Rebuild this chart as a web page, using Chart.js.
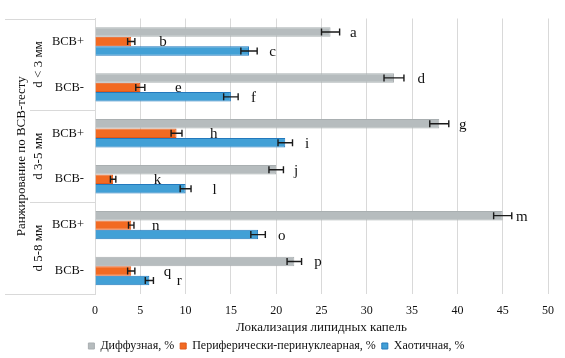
<!DOCTYPE html>
<html>
<head>
<meta charset="utf-8">
<script src="https://cdn.jsdelivr.net/npm/chart.js@4/dist/chart.umd.min.js"></script>
<style>
html,body{margin:0;padding:0;background:#fff;}
#wrap{width:565px;height:358px;position:relative;}
</style>
</head>
<body>
<div id="wrap"><canvas id="c" width="565" height="358"></canvas></div>
<script>
const categories = ['ВСВ+', 'ВСВ-', 'ВСВ+', 'ВСВ-', 'ВСВ+', 'ВСВ-'];
const groups = ['d < 3 мм', 'd 3-5 мм', 'd 5-8 мм'];
const outerTitle = 'Ранжирование по ВСВ-тесту';
const xTitle = 'Локализация липидных капель';
const seriesNames = ['Диффузная, %', 'Периферически-перинуклеарная, %', 'Хаотичная, %'];

const diffuse = [26, 33, 38, 20, 45, 22];
const diffuseErr = [1.0, 1.1, 1.05, 0.8, 1.0, 0.8];
const peripheral = [4, 5, 9, 2, 4, 4];
const peripheralErr = [0.4, 0.5, 0.6, 0.3, 0.3, 0.4];
const chaotic = [17, 15, 21, 10, 18, 6];
const chaoticErr = [0.9, 0.8, 0.8, 0.6, 0.8, 0.45];

const diffuseLetters = ['a', 'd', 'g', 'j', 'm', 'p'];
const diffuseLetterX = [28.5, 36.0, 40.6, 22.2, 47.1, 24.6];
const peripheralLetters = ['b', 'e', 'h', 'k', 'n', 'q'];
const peripheralLetterX = [7.5, 9.2, 13.1, 6.9, 6.7, 8.0];
const chaoticLetters = ['c', 'f', 'i', 'l', 'o', 'r'];
const chaoticLetterX = [19.6, 17.5, 23.4, 13.2, 20.6, 9.3];

const xTicksMax = 50;
const xStep = 5;

const FONT = "Liberation Serif";
const GRID = '#d9d9d9';
Chart.defaults.font.family = FONT;
Chart.defaults.color = '#111';

const errorSets = [diffuseErr, peripheralErr, chaoticErr];
const letterSets = [diffuseLetters, peripheralLetters, chaoticLetters];
const letterXSets = [diffuseLetterX, peripheralLetterX, chaoticLetterX];

const annotPlugin = {
  id: 'annot',
  afterDatasetsDraw(chart) {
    const ctx = chart.ctx;
    const xs = chart.scales.x;
    ctx.save();
    chart.data.datasets.forEach((ds, di) => {
      const meta = chart.getDatasetMeta(di);
      meta.data.forEach((el, i) => {
        const v = ds.data[i];
        const e = errorSets[di][i];
        const x1 = xs.getPixelForValue(v - e);
        const x2 = xs.getPixelForValue(v + e);
        const y = el.y;
        ctx.strokeStyle = '#1a1a1a';
        ctx.lineWidth = 1.4;
        ctx.beginPath();
        ctx.moveTo(x1, y); ctx.lineTo(x2, y);
        ctx.moveTo(x1, y - 3.5); ctx.lineTo(x1, y + 3.5);
        ctx.moveTo(x2, y - 3.5); ctx.lineTo(x2, y + 3.5);
        ctx.stroke();
        ctx.fillStyle = '#111';
        ctx.font = "15px " + FONT;
        ctx.textAlign = 'center';
        ctx.textBaseline = 'middle';
        ctx.fillText(letterSets[di][i], xs.getPixelForValue(letterXSets[di][i]), y + 1);
      });
    });
    ctx.restore();
  },
  afterDraw(chart) {
    const ctx = chart.ctx;
    const ys = chart.scales.y;
    const area = chart.chartArea;
    const left = 5;
    const right = area.left;
    ctx.save();
    ctx.strokeStyle = GRID;
    ctx.lineWidth = 1;
    ctx.beginPath();
    ctx.moveTo(left, Math.round(area.top) + 0.5); ctx.lineTo(right, Math.round(area.top) + 0.5);
    ctx.moveTo(left, Math.round(area.bottom) + 0.5); ctx.lineTo(right, Math.round(area.bottom) + 0.5);
    for (let g = 1; g < groups.length; g++) {
      const yb = (ys.getPixelForValue(g * 2 - 1) + ys.getPixelForValue(g * 2)) / 2;
      ctx.moveTo(30, Math.round(yb) + 0.5); ctx.lineTo(right, Math.round(yb) + 0.5);
    }
    ctx.stroke();
    ctx.fillStyle = '#111';
    ctx.font = "13px " + FONT;
    ctx.textAlign = 'center';
    ctx.textBaseline = 'middle';
    groups.forEach((g, gi) => {
      const yc = (ys.getPixelForValue(gi * 2) + ys.getPixelForValue(gi * 2 + 1)) / 2;
      ctx.save();
      ctx.translate(39, yc);
      ctx.rotate(-Math.PI / 2);
      ctx.fillText(g, 0, 0);
      ctx.restore();
    });
    ctx.save();
    ctx.font = "13px " + FONT;
    ctx.translate(22, (area.top + area.bottom) / 2);
    ctx.rotate(-Math.PI / 2);
    ctx.fillText(outerTitle, 0, 0);
    ctx.restore();
    ctx.restore();
  }
};

new Chart(document.getElementById('c'), {
  type: 'bar',
  data: {
    labels: categories,
    datasets: [
      { label: seriesNames[0], data: diffuse, backgroundColor: '#b6bcbe', borderColor: '#a9afb1', borderWidth: 1 },
      { label: seriesNames[1], data: peripheral, backgroundColor: '#f26a22', borderColor: '#e0581a', borderWidth: 1 },
      { label: seriesNames[2], data: chaotic, backgroundColor: '#42a0d6', borderColor: '#2379bd', borderWidth: 1 }
    ]
  },
  options: {
    indexAxis: 'y',
    responsive: false,
    animation: false,
    maintainAspectRatio: false,
    layout: { padding: { left: 5, right: 17, top: 13, bottom: -4 } },
    datasets: { bar: { categoryPercentage: 0.62, barPercentage: 1.0 } },
    scales: {
      x: {
        min: 0, max: xTicksMax,
        ticks: { stepSize: xStep, color: '#111', font: { family: FONT, size: 12 }, padding: 10 },
        grid: { color: GRID, lineWidth: 1, drawTicks: false },
        border: { display: false },
        title: { display: true, text: xTitle, color: '#111', font: { family: FONT, size: 13 }, padding: { top: -9, bottom: -1 } }
      },
      y: {
        ticks: { color: '#111', font: { family: FONT, size: 12.5 }, padding: 11 },
        grid: { display: false, drawTicks: false },
        border: { display: true, color: GRID, width: 1 },
        afterFit(scale) { scale.width = 90; }
      }
    },
    plugins: {
      legend: {
        position: 'bottom',
        labels: { boxWidth: 6, boxHeight: 6, color: '#111', font: { family: FONT, size: 12 }, padding: 6 }
      },
      tooltip: { enabled: false }
    }
  },
  plugins: [annotPlugin]
});
</script>
</body>
</html>
